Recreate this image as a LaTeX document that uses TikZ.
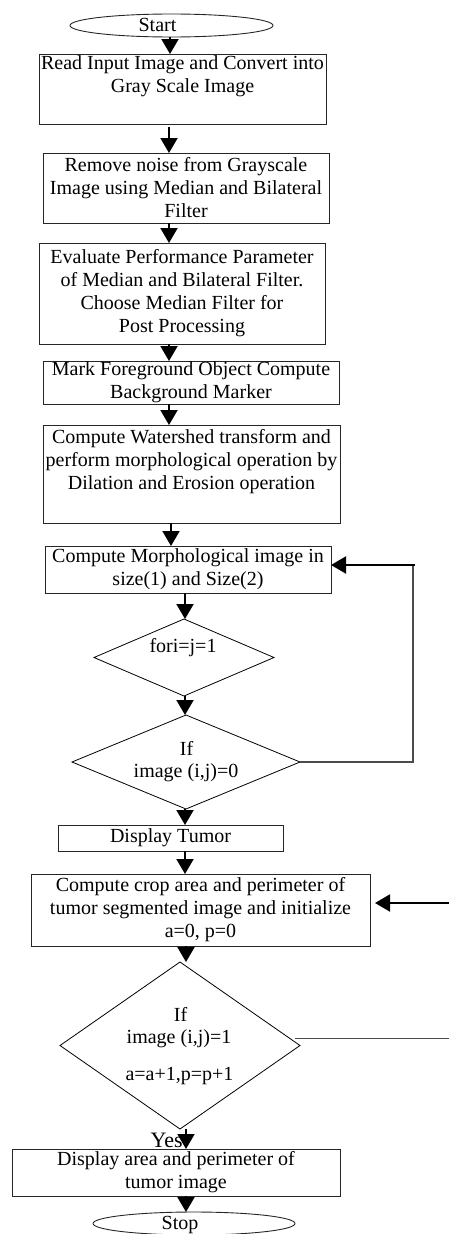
\documentclass[tikz,border=0pt]{standalone}
\usepackage{fontspec}
\setmainfont{Liberation Serif}
\usetikzlibrary{shapes.geometric,arrows.meta}

\begin{document}
\begin{tikzpicture}[x=1pt,y=-1pt,
  box/.style={draw=black!85, line width=1pt, rectangle, inner sep=0pt, outer sep=0pt,
              align=center, font=\fontsize{20}{23}\selectfont},
  term/.style={draw=black!85, line width=0.9pt, ellipse, inner sep=0pt, outer sep=0pt},
  decision/.style={draw=black, line width=0.8pt, diamond, inner sep=0pt, outer sep=0pt},
  lbl/.style={inner sep=0pt, anchor=base, font=\fontsize{20}{23}\selectfont},
  flow/.style={line width=2pt, -{Triangle[width=17pt,length=15pt]}},
  loopline/.style={line width=1.2pt, draw=black!70},
]
\useasboundingbox (0,0) rectangle (449,1234);

% terminals
\node[term, minimum width=203pt, minimum height=23pt] (start) at (171.5,25.5) {};
\node[lbl] (starttxt) at (157.5,31.7) {Start};

% process boxes
\node[box, minimum width=287pt, minimum height=70pt] (b1) at (182.5,89)
  {Read Input Image and Convert into\\Gray Scale Image\\\strut};
\node[box, minimum width=286pt, minimum height=70pt] (b2) at (186,188)
  {Remove noise from Grayscale\\Image using Median and Bilateral\\Filter};
\node[box, minimum width=286pt, minimum height=101pt] (b3) at (182,293.5)
  {Evaluate Performance Parameter\\of Median and Bilateral Filter.\\Choose Median Filter for\\Post Processing};
\node[box, minimum width=296pt, minimum height=43pt] (b4) at (191,382.5)
  {Mark Foreground Object Compute\\Background Marker};
\node[box, minimum width=297pt, minimum height=98pt] (b5) at (191.5,474)
  {Compute Watershed transform and\\perform morphological operation by\\Dilation and Erosion operation\\\strut};
\node[box, minimum width=286pt, minimum height=47pt] (b6) at (188,569.5)
  {Compute Morphological image in\\size(1) and Size(2)};

% loop decisions
\node[decision, minimum width=180pt, minimum height=77pt] (d1) at (184,657.5) {};
\node[lbl] (d1txt) at (183,652) {fori=j=1};
\node[decision, minimum width=228pt, minimum height=94pt] (d2) at (186,762) {};
\node[lbl] (d2a) at (186.5,755.5) {If};
\node[lbl] (d2b) at (186,777.5) {image (i,j)=0};

\node[box, minimum width=225pt, minimum height=26pt] (b7) at (170.5,838) {Display Tumor};
\node[box, minimum width=339pt, minimum height=72pt] (b8) at (200.5,910)
  {Compute crop area and perimeter of\\tumor segmented image and initialize\\a=0, p=0};

\node[decision, minimum width=240pt, minimum height=167pt] (d3) at (180,1045.5) {};
\node[lbl] (d3a) at (180.5,1021.5) {If};
\node[lbl] (d3b) at (179,1043) {image (i,j)=1};
\node[lbl] (d3c) at (179.5,1080.5) {a=a+1,p=p+1};

\node[inner sep=0pt, anchor=base west, font=\fontsize{22}{24}\selectfont] (yes) at (150.5,1147.5) {Yes};

\node[box, minimum width=328pt, minimum height=47pt] (b9) at (176,1172.5)
  {Display area and perimeter of\\tumor image};
\node[term, minimum width=202pt, minimum height=23pt] (stop) at (194,1223.5) {};
\node[lbl] (stoptxt) at (180,1229.5) {Stop};

% main flow
\draw[flow] (start.south -| 170,0) -- (b1.north -| 170,0);
\draw[flow, shorten <=3pt] (b1.south -| 169,0) -- (b2.north -| 169,0);
\draw[flow] (b2.south -| 169,0) -- (b3.north -| 169,0);
\draw[flow] (b3.south -| 169,0) -- (b4.north -| 169,0);
\draw[flow] (b4.south -| 169,0) -- (b5.north -| 169,0);
\draw[flow] (b5.south -| 171,0) -- (b6.north -| 171,0);
\draw[flow] (b6.south -| 185,0) -- (d1.north -| 185,0);
\draw[flow] (d1.south -| 185,0) -- (d2.north -| 185,0);
\draw[flow] (d2.south -| 185,0) -- (b7.north -| 185,0);
\draw[flow] (b7.south -| 185,0) -- (b8.north -| 185,0);
\draw[flow] (b8.south -| 186,0) -- (d3.north -| 186,0);
\draw[flow] (d3.south -| 186,0) -- (b9.north -| 186,0);
\draw[flow] (b9.south -| 186,0) -- (stop.north -| 186,0);

% loop back to the morphological step
\coordinate (r1) at (413,565);
\draw[loopline] (d2.east) -- (d2.east -| r1) -- (r1);
\draw[flow] ([xshift=2pt]r1) -- (r1 -| b6.east);

% loop back to the crop step
\coordinate (r2) at (449,903);
\draw[flow, shorten >=5pt] (r2) -- (r2 -| b8.east);
\coordinate (d3r) at ([shift={(-5pt,7pt)}]d3.east);
\draw[loopline] (d3r) -- (d3r -| r2);
\end{tikzpicture}
\end{document}
